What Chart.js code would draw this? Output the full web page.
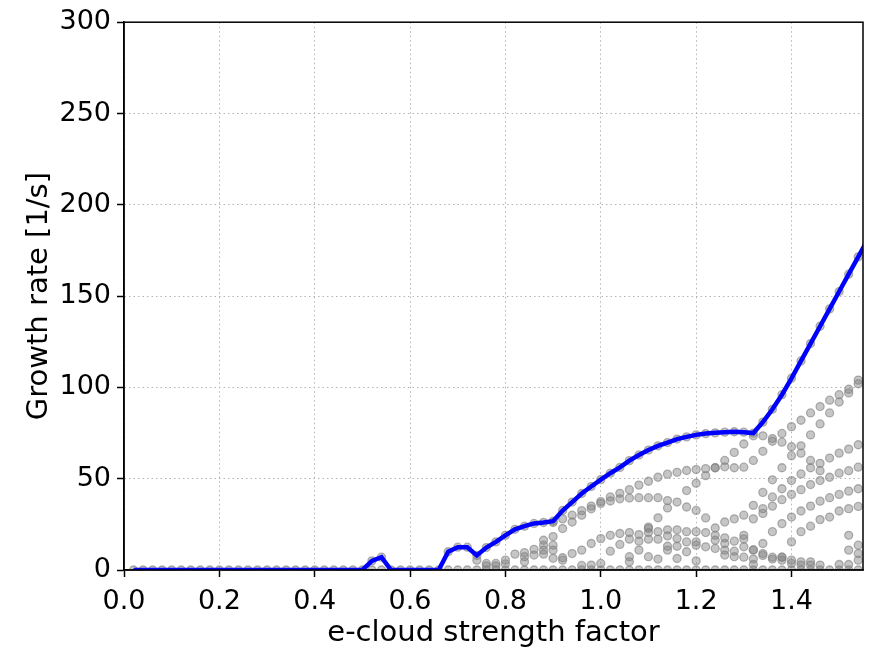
<!DOCTYPE html>
<html>
<head>
<meta charset="utf-8">
<script src="https://cdn.jsdelivr.net/npm/chart.js@4.4.1/dist/chart.umd.min.js"></script>
<style>
  html, body { margin: 0; padding: 0; background: #fff; }
  #wrap { width: 871px; height: 652px; }
</style>
</head>
<body>
<div id="wrap"><canvas id="growthChart" width="871" height="652"></canvas></div>
<script>
// e-cloud strength scan: growth rate of every mode (grey) and the fastest one (blue)
const strength = [
  0.02, 0.04, 0.06, 0.08, 0.10, 0.12, 0.14, 0.16, 0.18, 0.20,
  0.22, 0.24, 0.26, 0.28, 0.30, 0.32, 0.34, 0.36, 0.38, 0.40,
  0.42, 0.44, 0.46, 0.48, 0.50, 0.52, 0.54, 0.56, 0.58, 0.60,
  0.62, 0.64, 0.66, 0.68, 0.70, 0.72, 0.74, 0.76, 0.78, 0.80,
  0.82, 0.84, 0.86, 0.88, 0.90, 0.92, 0.94, 0.96, 0.98, 1.00,
  1.02, 1.04, 1.06, 1.08, 1.10, 1.12, 1.14, 1.16, 1.18, 1.20,
  1.22, 1.24, 1.26, 1.28, 1.30, 1.32, 1.34, 1.36, 1.38, 1.40,
  1.42, 1.44, 1.46, 1.48, 1.50, 1.52, 1.54, 1.56
];

// fastest growing mode at each strength
const maxGrowth = [
  0, 0, 0, 0, 0, 0, 0, 0, 0, 0,
  0, 0, 0, 0, 0, 0, 0, 0, 0, 0,
  0, 0, 0, 0, 0, 5, 7, 0, 0, 0,
  0, 0, 0, 10, 12.5, 12.5, 8, 12.3, 15.4, 19,
  22.3, 24, 25.5, 26, 26.7, 32.6, 37.2, 41.9, 45.7, 49.5,
  53, 56.2, 59.9, 63, 65.7, 68, 69.8, 71.7, 72.9, 74,
  74.7, 75.1, 75.5, 75.7, 75.5, 75, 81, 88, 96, 105,
  114.5, 124, 133.5, 143, 152.5, 162, 171.5, 181
];

// modes sitting at zero once the instability sets in
const floorStrength = [
  0.52, 0.54, 0.68, 0.70, 0.72, 0.74, 0.76, 0.78, 0.80, 0.82,
  0.84, 0.86, 0.88, 0.90, 0.92, 0.94, 0.96, 0.98, 1.00, 1.02,
  1.04, 1.06, 1.08, 1.10, 1.12, 1.14, 1.16, 1.18, 1.20, 1.22,
  1.24, 1.26, 1.28, 1.30, 1.32, 1.34, 1.36, 1.38, 1.40, 1.42,
  1.44, 1.46, 1.48, 1.50, 1.52, 1.54
];

// other mode branches, [strength, growth rate]
const branchUpper = [
  [0.90, 26], [0.92, 28], [0.94, 30], [0.96, 32.5], [0.98, 35], [1.00, 37.5],
  [1.02, 40], [1.04, 42], [1.06, 44], [1.08, 46.5], [1.10, 48.6], [1.12, 50.8],
  [1.14, 52.5], [1.16, 53.5], [1.18, 54.5], [1.20, 55], [1.22, 55.5], [1.24, 56],
  [1.26, 56.5], [1.28, 56], [1.30, 56.3], [1.32, 60], [1.34, 65], [1.36, 70.5],
  [1.38, 74.8], [1.40, 78.5], [1.42, 82], [1.44, 86], [1.46, 89.5], [1.48, 93],
  [1.50, 96], [1.52, 99], [1.54, 104]
];
const branchMid = [
  [0.80, 5.4], [0.82, 8.7], [0.84, 9.5], [0.86, 11.3], [0.88, 16.3], [0.90, 18.3],
  [0.92, 22.7], [0.94, 26.3], [0.96, 30], [0.98, 33.5], [1.00, 36.5], [1.02, 37.8],
  [1.04, 39], [1.06, 39.4], [1.08, 39.6], [1.10, 39.6], [1.12, 39.6], [1.14, 38],
  [1.16, 37.2], [1.18, 34.5], [1.20, 32.6], [1.22, 28.5], [1.24, 23], [1.26, 26.3],
  [1.28, 28], [1.30, 30], [1.32, 35.4], [1.34, 42.5], [1.36, 49.4], [1.38, 56],
  [1.40, 62.6], [1.42, 68], [1.44, 74], [1.46, 80], [1.48, 86], [1.50, 92],
  [1.52, 97], [1.54, 102]
];
const branchRise = [
  [1.18, 43.5], [1.20, 47.5], [1.22, 51.7], [1.24, 56], [1.26, 60], [1.28, 64.4],
  [1.30, 69], [1.32, 73.5]
];
const branchShort = [[1.10, 23.5], [1.12, 28.6], [1.14, 34]];
const branchFall = [
  [1.34, 73.5], [1.36, 72], [1.38, 70], [1.40, 67.5], [1.42, 64], [1.44, 60], [1.46, 54.4]
];
const branchH = [
  [1.34, 33.6], [1.36, 40], [1.38, 44.5], [1.40, 49], [1.42, 52.6], [1.44, 56],
  [1.46, 58.4], [1.48, 61.3], [1.50, 64], [1.52, 66.2], [1.54, 68.6]
];
const branchI = [
  [1.32, 28], [1.34, 31], [1.36, 35], [1.38, 38.5], [1.40, 41.4], [1.42, 44],
  [1.44, 46.8], [1.46, 49], [1.48, 50.8], [1.50, 53], [1.52, 54.4], [1.54, 56.3]
];
const branchJ = [
  [1.32, 11], [1.34, 14.5], [1.36, 21], [1.38, 25.4], [1.40, 29], [1.42, 32.3],
  [1.44, 35], [1.46, 37.7], [1.48, 39.6], [1.50, 41.4], [1.52, 43.2], [1.54, 44.5]
];
const branchK = [
  [1.38, 7], [1.40, 15.4], [1.42, 21], [1.44, 24], [1.46, 27.6], [1.48, 29],
  [1.50, 32.3], [1.52, 33.6], [1.54, 34.8]
];
const humpA = [
  [0.92, 6.7], [0.94, 9], [0.96, 10.9], [0.98, 14.5], [1.00, 17.2], [1.02, 19],
  [1.04, 20], [1.06, 20.5], [1.08, 19.4], [1.10, 22.7], [1.12, 21], [1.14, 22],
  [1.16, 22], [1.18, 21], [1.20, 21], [1.22, 20.5], [1.24, 19], [1.26, 17.6],
  [1.28, 15.8], [1.30, 19], [1.32, 11], [1.34, 9], [1.36, 7], [1.38, 7],
  [1.40, 5.4], [1.42, 4.5], [1.44, 4.5], [1.46, 2.7]
];
const humpB = [
  [1.04, 14], [1.06, 16.9], [1.08, 15.8], [1.10, 20.5], [1.12, 16.9], [1.14, 18.7],
  [1.16, 17.2], [1.18, 15.4], [1.20, 15.4], [1.22, 12.7], [1.24, 16.3], [1.26, 14.5],
  [1.28, 10.3], [1.30, 17], [1.32, 6], [1.34, 8], [1.36, 6], [1.38, 5.4],
  [1.40, 3.6], [1.42, 2.7], [1.44, 2.7]
];
const humpC = [
  [1.02, 10.3], [1.06, 7.3], [1.08, 10.9], [1.10, 16.9], [1.12, 6], [1.14, 13],
  [1.16, 13], [1.18, 10], [1.20, 13.6], [1.24, 11.8], [1.26, 10.9], [1.28, 7.3],
  [1.30, 12.7]
];
const humpD = [
  [1.00, 3.6], [1.06, 4.5], [1.10, 7.3], [1.14, 10.9], [1.16, 6.3], [1.20, 5],
  [1.26, 8.2], [1.30, 7], [1.32, 3]
];
const lowA = [[0.74, 5.4], [0.76, 3.6], [0.78, 3.6], [0.80, 3.3], [0.84, 7.3], [0.86, 8.2], [0.88, 13.6], [0.90, 13.6]];
const lowB = [[0.76, 2.2], [0.78, 2.2], [0.84, 4.5], [0.88, 10.9], [0.90, 10.9], [0.92, 5.4]];
const lowC = [[0.88, 8.7], [0.90, 6.4], [0.96, 2.5], [0.98, 2.7]];
const tail = [[1.50, 3], [1.52, 10.9], [1.52, 19], [1.54, 13.6], [1.54, 9], [1.54, 5.4], [1.52, 3]];

const xTicks = [0.0, 0.2, 0.4, 0.6, 0.8, 1.0, 1.2, 1.4];
const yTicks = [0, 50, 100, 150, 200, 250, 300];

const toPoints = pairs => pairs.map(p => ({ x: p[0], y: p[1] }));

const greyStyle = {
  showLine: false,
  pointRadius: 4,
  pointBorderWidth: 1.3,
  pointBackgroundColor: 'rgba(128,128,128,0.45)',
  pointBorderColor: 'rgba(128,128,128,0.6)',
  clip: 0
};

const greyBranches = [
  strength.map((s, i) => ({ x: s, y: maxGrowth[i] })),
  floorStrength.map(s => ({ x: s, y: 0 })),
  toPoints(branchUpper), toPoints(branchMid), toPoints(branchRise), toPoints(branchShort),
  toPoints(branchFall), toPoints(branchH), toPoints(branchI), toPoints(branchJ),
  toPoints(branchK), toPoints(humpA), toPoints(humpB), toPoints(humpC), toPoints(humpD),
  toPoints(lowA), toPoints(lowB), toPoints(lowC), toPoints(tail)
];

const datasets = [{
  label: 'max',
  data: strength.map((s, i) => ({ x: s, y: maxGrowth[i] })),
  showLine: true,
  borderColor: '#0000ff',
  borderWidth: 4.5,
  pointRadius: 0,
  tension: 0,
  clip: 0
}].concat(greyBranches.map((pts, i) => Object.assign({ label: 'mode ' + i, data: pts }, greyStyle)));

// black box round the plot area
const frame = {
  id: 'frame',
  afterDraw(chart) {
    const { ctx, chartArea: a } = chart;
    ctx.save();
    ctx.strokeStyle = '#000';
    ctx.lineWidth = 1.5;
    ctx.strokeRect(a.left, a.top, a.right - a.left, a.bottom - a.top);
    ctx.restore();
  }
};

const font = { family: 'DejaVu Sans', size: 27 };
const titleFont = { family: 'DejaVu Sans', size: 29 };

new Chart(document.getElementById('growthChart'), {
  type: 'scatter',
  data: { datasets: datasets },
  options: {
    responsive: false,
    devicePixelRatio: 1,
    animation: false,
    layout: { padding: { top: 19, right: 8, left: 0, bottom: 0 } },
    plugins: { legend: { display: false }, tooltip: { enabled: false } },
    scales: {
      x: {
        type: 'linear',
        min: 0,
        max: 1.55,
        afterBuildTicks: s => { s.ticks = xTicks.map(v => ({ value: v })); },
        afterFit: s => { s.height = 82; },
        ticks: { font: font, color: '#000', padding: 9, callback: v => v.toFixed(1), maxRotation: 0 },
        grid: { color: '#b4b4b4', lineWidth: 1, tickColor: '#000', tickLength: 7, tickWidth: 1.5 },
        border: { color: '#000', width: 1.5, dash: [1.5, 3] },
        title: { display: true, text: 'e-cloud strength factor', color: '#000',
                 font: titleFont, padding: { top: 0, bottom: 1 } }
      },
      y: {
        type: 'linear',
        min: 0,
        max: 300,
        afterBuildTicks: s => { s.ticks = yTicks.map(v => ({ value: v })); },
        afterFit: s => { s.width = 124; },
        ticks: { font: font, color: '#000', padding: 6 },
        grid: { color: '#b4b4b4', lineWidth: 1, tickColor: '#000', tickLength: 7, tickWidth: 1.5 },
        border: { color: '#000', width: 1.5, dash: [1.5, 3] },
        title: { display: true, text: 'Growth rate [1/s]', color: '#000',
                 font: titleFont, padding: { top: 22, bottom: 0 } }
      }
    }
  },
  plugins: [frame]
});
</script>
</body>
</html>
